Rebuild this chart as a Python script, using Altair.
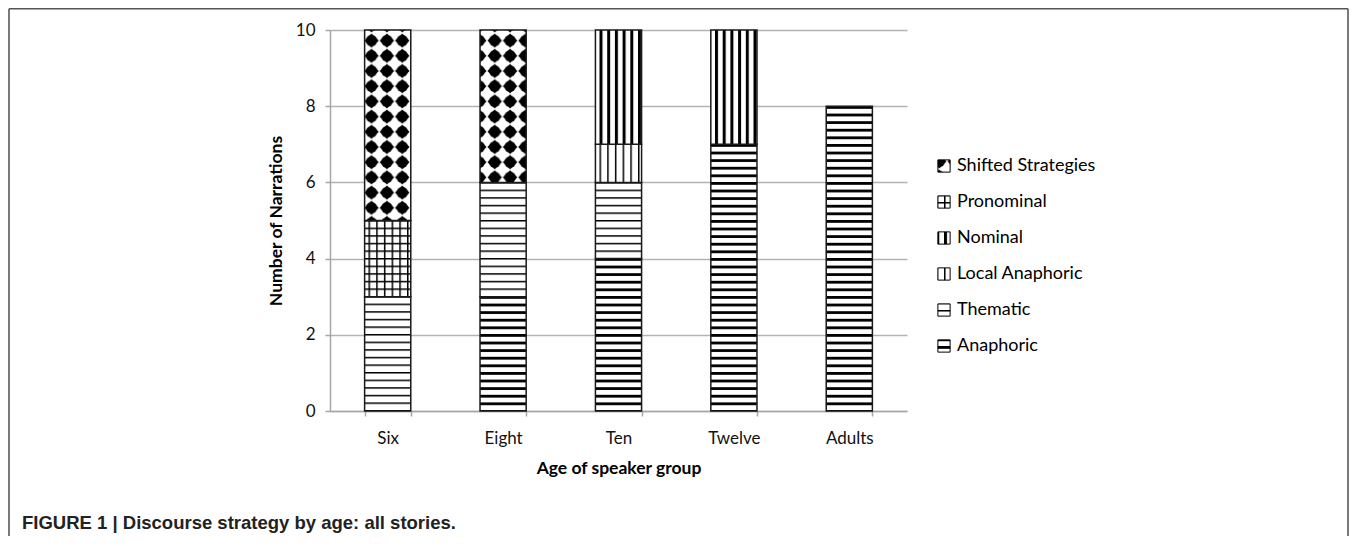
import altair as alt
import pandas as pd
import jinja2

# ---------------- data ----------------
ages = ["Six", "Eight", "Ten", "Twelve", "Adults"]
anaphoric = [0, 3, 4, 7, 8]
thematic = [3, 3, 2, 0, 0]
local_anaphoric = [0, 0, 1, 0, 0]
nominal = [0, 0, 3, 3, 0]
pronominal = [2, 0, 0, 0, 0]
shifted = [5, 4, 0, 0, 0]

# stacking order, bottom to top
strategies = ["Anaphoric", "Thematic", "Local Anaphoric", "Nominal", "Pronominal", "Shifted Strategies"]
series = [anaphoric, thematic, local_anaphoric, nominal, pronominal, shifted]
pattern_ids = ["pAna", "pThem", "pLoc", "pNom", "pPro", "pShift"]

y_ticks = [0, 2, 4, 6, 8, 10]
CAPTION = "FIGURE 1 | Discourse strategy by age: all stories."

rows = []
for rank, (name, vals) in enumerate(zip(strategies, series)):
    for age, v in zip(ages, vals):
        if v > 0:
            rows.append({"age": age, "strategy": name, "count": v, "rank": rank})
df = pd.DataFrame(rows)

legend_order = list(reversed(strategies))
fills = ["url(#%s)" % pattern_ids[strategies.index(s)] for s in legend_order]

FONT = "Lato"

bars = alt.Chart(df).mark_bar(stroke="#1a1a1a", strokeWidth=1.5).encode(
    x=alt.X(
        "age:N",
        sort=ages,
        scale=alt.Scale(paddingInner=0.6, paddingOuter=0.3),
        axis=alt.Axis(
            title="Age of speaker group",
            labelAngle=0,
            tickBand="extent",
            tickSize=5,
            labelPadding=14,
            titlePadding=13,
            grid=False,
        ),
    ),
    y=alt.Y(
        "count:Q",
        stack="zero",
        scale=alt.Scale(domain=[0, 10], nice=False),
        axis=alt.Axis(
            title="Number of Narrations",
            values=y_ticks,
            tickSize=5,
            labelPadding=10,
            titlePadding=10,
            grid=True,
        ),
    ),
    color=alt.Color(
        "strategy:N",
        scale=alt.Scale(domain=legend_order, range=fills),
        legend=alt.Legend(
            title=None,
            orient="none",
            legendX=605,
            legendY=127,
            symbolType="square",
            symbolSize=150,
            symbolStrokeColor="#000",
            symbolStrokeWidth=1,
            labelFont=FONT,
            labelFontSize=18,
            labelColor="#000",
            labelOffset=4,
            rowPadding=18,
            padding=0,
        ),
    ),
    order=alt.Order("rank:Q", sort="ascending"),
)

one = alt.Data(values=[{"k": 0}])
FRAME = "#7a7a7a"
frame_left = alt.Chart(one).mark_rule(color=FRAME, strokeWidth=2).encode(
    x=alt.value(-321), y=alt.value(-21.2), y2=alt.value(506)
)
frame_right = alt.Chart(one).mark_rule(color=FRAME, strokeWidth=2).encode(
    x=alt.value(1018), y=alt.value(-21.2), y2=alt.value(506)
)
frame_top = alt.Chart(one).mark_rule(color="#555555", strokeWidth=1.5).encode(
    x=alt.value(-321), x2=alt.value(1018), y=alt.value(-21.2)
)
caption = alt.Chart(one).mark_text(
    font="Liberation Sans", fontWeight="bold", fontSize=18.5,
    align="left", baseline="alphabetic", color="#222222",
).encode(x=alt.value(-308), y=alt.value(499), text=alt.value(CAPTION))

chart = alt.layer(bars, frame_left, frame_right, frame_top, caption).properties(
    width=577,
    height=381,
    padding={"left": 322, "top": 22, "right": 442, "bottom": 125},
    autosize=alt.AutoSizeParams(type="none"),
).configure_view(stroke=None).configure_axis(
    labelFont=FONT,
    labelFontSize=17,
    labelColor="#111111",
    titleFont=FONT,
    titleFontSize=17.5,
    titleFontWeight="bold",
    titleColor="#000000",
    domainColor="#a6a6a6",
    domainWidth=1.5,
    tickColor="#a6a6a6",
    tickWidth=1.5,
    gridColor="#b3b3b3",
    gridWidth=1.5,
)

# SVG fill patterns that the bar fills refer to
PATTERN_DEFS = """
<svg width="0" height="0" style="position:absolute;left:0;top:0" aria-hidden="true">
  <defs>
    <pattern id="pAna" patternUnits="userSpaceOnUse" width="8" height="7.6">
      <rect width="8" height="7.6" fill="#fff"/>
      <rect y="0" width="8" height="2.8" fill="#000"/>
    </pattern>
    <pattern id="pThem" patternUnits="userSpaceOnUse" width="8" height="7.6">
      <rect width="8" height="7.6" fill="#fff"/>
      <rect y="0" width="8" height="1.5" fill="#000"/>
    </pattern>
    <pattern id="pLoc" patternUnits="userSpaceOnUse" width="7.7" height="8">
      <rect width="7.7" height="8" fill="#fff"/>
      <rect x="0" width="1.5" height="8" fill="#000"/>
    </pattern>
    <pattern id="pNom" patternUnits="userSpaceOnUse" width="7.7" height="8">
      <rect width="7.7" height="8" fill="#fff"/>
      <rect x="0" width="3" height="8" fill="#000"/>
    </pattern>
    <pattern id="pPro" patternUnits="userSpaceOnUse" width="7.7" height="7.6">
      <rect width="7.7" height="7.6" fill="#fff"/>
      <rect x="0" width="1.5" height="7.6" fill="#000"/>
      <rect y="0" width="7.7" height="1.5" fill="#000"/>
    </pattern>
    <pattern id="pShift" patternUnits="userSpaceOnUse" width="15.4" height="15.2" x="3" y="3">
      <rect width="15.4" height="15.2" fill="#fff"/>
      <path d="M7.7,0.4 L15.0,7.6 L7.7,14.8 L0.4,7.6 Z" fill="#000"/>
      <circle cx="7.7" cy="7.6" r="5.7" fill="#000"/>
    </pattern>
  </defs>
</svg>
"""

TEMPLATE = jinja2.Template("""<!DOCTYPE html>
<html>
<head>
  <style>
    #{{ output_div }}.vega-embed { width: 100%; display: flex; }
    #{{ output_div }}.vega-embed details,
    #{{ output_div }}.vega-embed details summary { position: relative; }
  </style>
  <script type="text/javascript" src="{{ base_url }}/vega@{{ vega_version }}"></script>
  <script type="text/javascript" src="{{ base_url }}/vega-lite@{{ vegalite_version }}"></script>
  <script type="text/javascript" src="{{ base_url }}/vega-embed@{{ vegaembed_version }}"></script>
</head>
<body>
""" + PATTERN_DEFS + """
  <div id="{{ output_div }}"></div>
  <script type="text/javascript">
    (function(vegaEmbed) {
      var spec = {{ spec }};
      var embedOpt = {{ embed_options }};
      function showError(el, error){
        el.innerHTML = ('<div style="color:red;"><p>JavaScript Error: ' + error.message + '</p></div>');
        throw error;
      }
      const el = document.getElementById('{{ output_div }}');
      vegaEmbed("#{{ output_div }}", spec, embedOpt).catch(error => showError(el, error));
    })(vegaEmbed);
  </script>
</body>
</html>
""")

chart.save("out.html", embed_options={"renderer": "svg", "actions": False}, template=TEMPLATE)
